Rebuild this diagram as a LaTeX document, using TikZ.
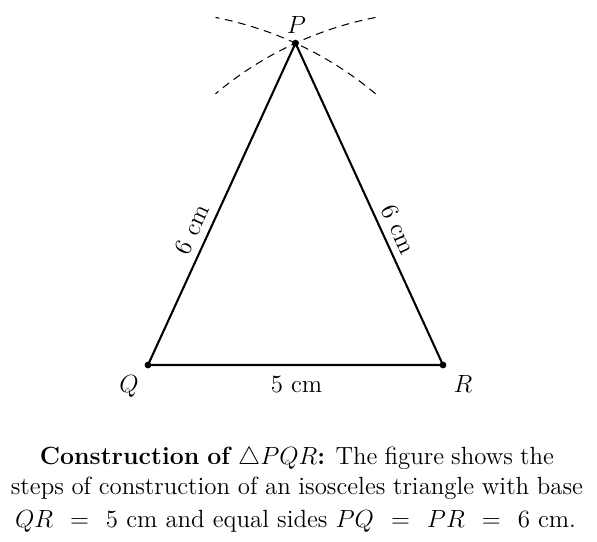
\documentclass[tikz,border=0pt]{standalone}
\usetikzlibrary{calc}
\begin{document}
\begin{tikzpicture}[
  side/.style={line width=1pt, line join=miter},
  arcline/.style={line width=0.5pt, dash pattern=on 3.8pt off 2.7pt},
  vertex/.style={circle, fill=black, inner sep=0pt, minimum size=3.3pt},
  lbl/.style={font=\large},
  captext/.style={font=\large, anchor=base, inner sep=0pt}
]
\useasboundingbox (-2.508,-2.983) rectangle (7.610,6.186);
\coordinate (Q) at (0,0);
\coordinate (R) at (5,0);
\coordinate (P) at (2.5,{sqrt(29.75)});
% construction arcs
\draw[arcline] (Q) ++(50:6) arc[start angle=50, end angle=79, radius=6];
\draw[arcline] (R) ++(101:6) arc[start angle=101, end angle=130, radius=6];
% triangle
\draw[side] (Q) -- node[lbl, sloped, above, pos=0.4] (lqp) {6 cm} (P)
  -- node[lbl, sloped, above, pos=0.6] (lpr) {6 cm} (R) -- cycle;
\node[vertex] (q) at (Q) {};
\node[vertex] (r) at (R) {};
\node[vertex] (p) at (P) {};
% vertex labels
\node[lbl, anchor=base] (lq) at ($(Q)+(-0.32,-0.458)$) {$Q$};
\node[lbl, anchor=base] (lr) at ($(R)+(0.34,-0.458)$) {$R$};
\node[lbl, anchor=base] (lp) at ($(P)+(0.017,0.17)$) {$P$};
\node[lbl, anchor=base] (lqr) at (2.517,-0.458) {5 cm};
% caption
\node[captext] (c1) at (2.525,-1.678) {\makebox[247.9pt][s]{\textbf{Construction of $\triangle PQR$:} The figure shows the}};
\node[captext] (c2) at (2.525,-2.203) {\makebox[275.9pt][s]{steps of construction of an isosceles triangle with base}};
\node[captext] (c3) at (2.5,-2.746) {\makebox[270.5pt][s]{$QR$\hspace{3pt plus 1fil}$=$\hspace{3pt plus 1fil}5 cm and equal sides $PQ$\hspace{3pt plus 1fil}$=$\hspace{3pt plus 1fil}$PR$\hspace{3pt plus 1fil}$=$\hspace{3pt plus 1fil}6 cm.}};
\end{tikzpicture}
\end{document}
